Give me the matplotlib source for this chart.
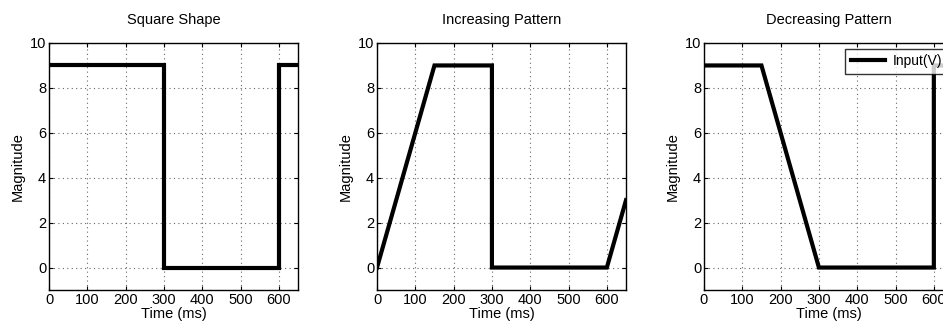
import matplotlib.pyplot as plt
import numpy as np

plt.rcParams['font.family'] = ['Liberation Sans', 'DejaVu Sans']

# DATA

titles = ['Square Shape', 'Increasing Pattern', 'Decreasing Pattern']

time_square = [0, 300, 300, 600, 600, 650]
mag_square  = [9, 9, 0, 0, 9, 9]

time_incr = [0, 150, 300, 300, 600, 650]
mag_incr  = [0, 9, 9, 0, 0, 3]

time_decr = [0, 150, 300, 600, 600, 650]
mag_decr  = [9, 9, 0, 0, 9, 9]

series = [(time_square, mag_square), (time_incr, mag_incr), (time_decr, mag_decr)]

xticks = [0, 100, 200, 300, 400, 500, 600]
yticks = [0, 2, 4, 6, 8, 10]

# FIGURE

W, H = 943, 324
fig = plt.figure(figsize=(W / 100, H / 100), dpi=100)

lefts = [49, 377, 704]
ax_w, ax_top, ax_bot = 249, 43, 290

for i, (t, m) in enumerate(series):
    ax = fig.add_axes([lefts[i] / W, (H - ax_bot) / H, ax_w / W, (ax_bot - ax_top) / H])
    ax.plot(t, m, color='black', lw=3, label='Input(V)', solid_joinstyle='miter')
    ax.set_xlim(0, 650)
    ax.set_ylim(-1, 10)
    ax.set_xticks(xticks)
    ax.set_yticks(yticks)
    ax.grid(True, color='#666666', linestyle=(0, (1, 3)), lw=0.8)
    ax.tick_params(direction='in', top=True, right=True, length=3, width=0.8,
                   labelsize=10.5, pad=2, colors='black')
    for s in ax.spines.values():
        s.set_linewidth(1.0)
    ax.set_title(titles[i], fontsize=10.5, pad=14)
    ax.set_xlabel('Time (ms)', fontsize=10.5, labelpad=0)
    ax.set_ylabel('Magnitude', fontsize=10.5, labelpad=4)
    if i == 2:
        leg = ax.legend(loc='upper right', fontsize=10, frameon=True, fancybox=False,
                        edgecolor='black', handlelength=2.5, borderpad=0.4,
                        handletextpad=0.5, borderaxespad=0.4)
        leg.get_frame().set_linewidth(1.0)

fig.savefig('out.png', dpi=100)
